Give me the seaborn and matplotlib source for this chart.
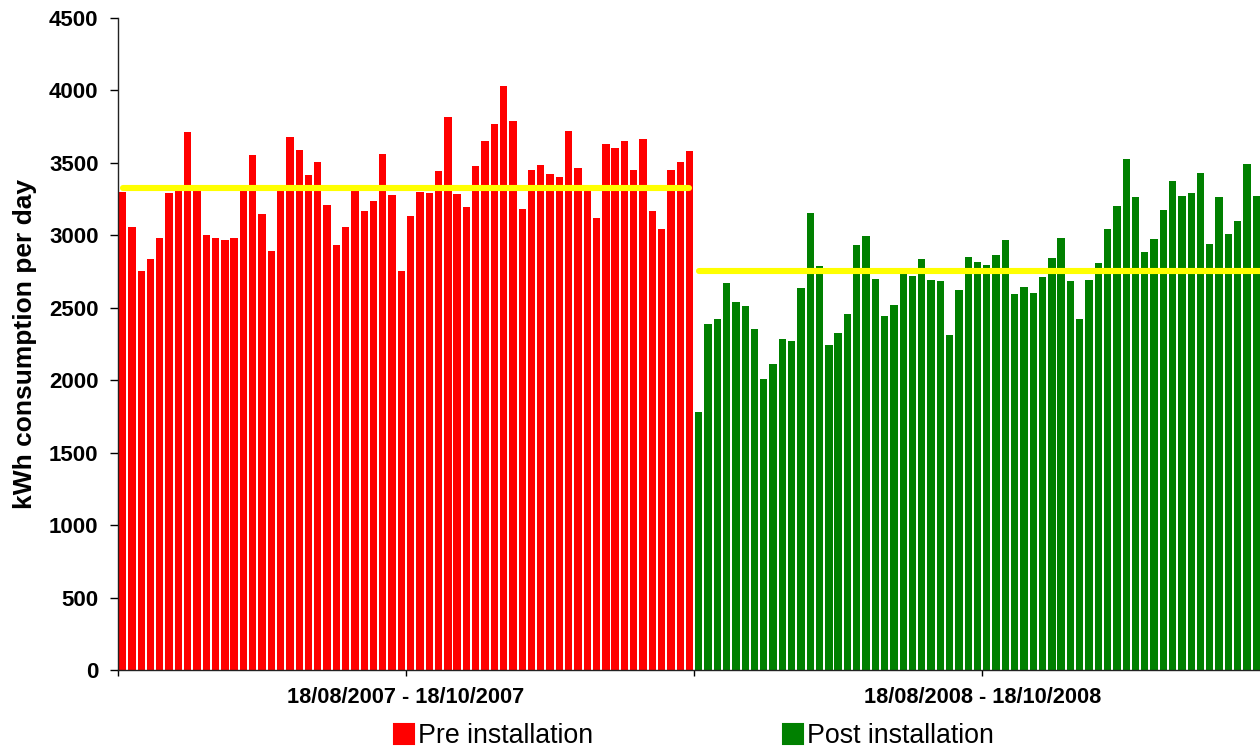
import numpy as np
import pandas as pd
import matplotlib
matplotlib.use("Agg")
import matplotlib.pyplot as plt
import seaborn as sns
from matplotlib.patches import Patch

# daily kWh, 18/08 - 18/10
pre_kwh = [3297, 3060, 2752, 2835, 2982, 3292, 3310, 3713, 3310, 3002,
           2984, 2970, 2984, 3350, 3557, 3145, 2894, 3304, 3679, 3589,
           3416, 3508, 3207, 2936, 3060, 3343, 3168, 3237, 3564, 3278,
           2752, 3131, 3299, 3290, 3446, 3815, 3283, 3193, 3479, 3653,
           3771, 4030, 3791, 3184, 3453, 3488, 3421, 3403, 3722, 3465,
           3308, 3122, 3633, 3600, 3653, 3453, 3663, 3168, 3044, 3453,
           3504, 3584]
post_kwh = [1778, 2386, 2420, 2673, 2542, 2510, 2351, 2006, 2112, 2282,
            2273, 2637, 3154, 2788, 2245, 2324, 2459, 2933, 2998, 2699,
            2443, 2519, 2749, 2719, 2837, 2692, 2685, 2312, 2620, 2853,
            2818, 2798, 2864, 2970, 2598, 2643, 2600, 2710, 2844, 2982,
            2683, 2423, 2694, 2809, 3041, 3203, 3527, 3267, 2885, 2972,
            3177, 3373, 3269, 3292, 3433, 2943, 3267, 3009, 3101, 3492,
            3271]
pre_avg = 3327
post_avg = 2754
labels = ["Pre installation", "Post installation"]
period_ticks = ["18/08/2007 - 18/10/2007", "18/08/2008 - 18/10/2008"]
colors = {"Pre installation": "#ff0000", "Post installation": "#008000"}

n_days = len(pre_kwh)
df = pd.DataFrame({
    "day": np.arange(len(pre_kwh) + len(post_kwh)),
    "kwh": pre_kwh + post_kwh,
    "period": [labels[0]] * len(pre_kwh) + [labels[1]] * len(post_kwh),
})

sns.set_style("white")
plt.rcParams["font.family"] = ["Liberation Sans", "DejaVu Sans"]
plt.rcParams["text.color"] = "black"
plt.rcParams["axes.labelcolor"] = "black"

fig = plt.figure(figsize=(12.6, 7.56), dpi=100)
ax = fig.add_axes([118 / 1260, 86 / 756, 1142 / 1260, 652 / 756])

sns.barplot(data=df, x="day", y="kwh", hue="period", palette=colors,
            saturation=1, dodge=False, width=0.79, linewidth=0,
            legend=False, ax=ax)

# period averages
pre_days = df.loc[df.period == labels[0], "day"]
post_days = df.loc[df.period == labels[1], "day"]
ax.plot([pre_days.min(), pre_days.max()], [pre_avg, pre_avg],
        color="#ffff00", lw=4.4, solid_capstyle="round")
ax.plot([post_days.min(), post_days.max() + 1], [post_avg, post_avg],
        color="#ffff00", lw=4.4, solid_capstyle="round")

ax.set_ylim(0, 4500)
ax.set_yticks(range(0, 4501, 500))

half = n_days / 2
xt = [-0.5 + k * half for k in range(5)]
ax.set_xticks(xt)
ax.set_xticklabels(["", period_ticks[0], "", period_ticks[1], ""])
ax.set_xlim(-0.5, 122.4)

ax.tick_params(axis="y", which="both", left=True, length=6, width=1,
               pad=8, labelsize=16, colors="black")
ax.tick_params(axis="x", bottom=True, length=4, width=1, pad=8,
               labelsize=15.7, colors="black")
for lab in ax.get_xticklabels() + ax.get_yticklabels():
    lab.set_fontweight("bold")

sns.despine(ax=ax, top=True, right=True)
for s in ["left", "bottom"]:
    ax.spines[s].set_color("#222222")
    ax.spines[s].set_linewidth(1.0)

ax.set_xlabel("")
ax.set_ylabel("kWh consumption per day", fontsize=19, fontweight="bold",
              labelpad=9, color="black")

handles = [Patch(facecolor=colors[l], edgecolor=colors[l], linewidth=1.5,
                 joinstyle="round", label=l) for l in labels]
leg = fig.legend(handles=handles, loc="center",
                 bbox_to_anchor=(694 / 1260, 0.026), ncol=2, frameon=False,
                 fontsize=19.3, handlelength=0.75, handleheight=0.75,
                 handletextpad=0.15, columnspacing=7.1, borderaxespad=0)
for t in leg.get_texts():
    t.set_color("black")

fig.savefig("out.png", dpi=100)
